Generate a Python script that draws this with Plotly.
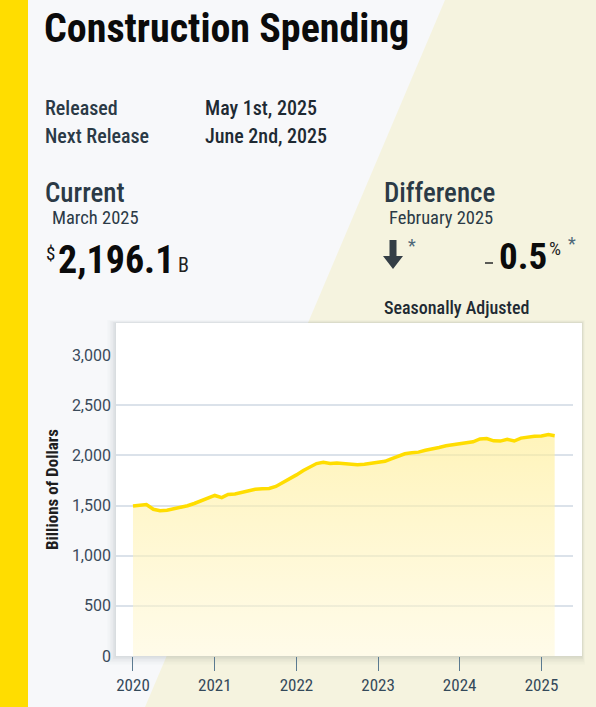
import plotly.graph_objects as go
import pandas as pd

# ---- data ----
spending_values = [
    1494, 1502, 1510, 1462, 1448, 1452, 1465, 1480, 1498, 1520, 1545, 1568,
    1600, 1578, 1610, 1615, 1630, 1643, 1662, 1667, 1670, 1690, 1728, 1760,
    1805, 1848, 1878, 1918, 1930, 1918, 1924, 1915, 1912, 1906, 1912, 1922,
    1930, 1940, 1965, 1992, 2015, 2025, 2032, 2050, 2060, 2078, 2095, 2105,
    2122, 2132, 2135, 2163, 2168, 2145, 2142, 2160, 2143, 2172, 2185, 2190,
    2193, 2207, 2196.1,
]
months = pd.date_range(start="2020-01-01", periods=len(spending_values), freq="MS")
year_ticks = ["2020-01-01", "2021-01-01", "2022-01-01", "2023-01-01", "2024-01-01", "2025-01-01"]
year_labels = ["2020", "2021", "2022", "2023", "2024", "2025"]
y_ticks = [0, 500, 1000, 1500, 2000, 2500, 3000]
y_labels = ["0", "500", "1,000", "1,500", "2,000", "2,500", "3,000"]

W, H = 596, 707
L, R, T, B = 116, 573, 355, 656


def px(x):
    return (x - L) / (R - L)


def py(y):
    return (B - y) / (B - T)


COND = "Roboto Condensed, Liberation Sans Narrow, DejaVu Sans Condensed, Roboto, sans-serif"
DARK = "#2b3a46"

fig = go.Figure()
fig.add_trace(go.Scatter(
    x=months, y=spending_values, mode="lines",
    line=dict(color="#FFDD00", width=3.5),
    fill="tozeroy",
    fillgradient=dict(type="vertical", start=0, stop=2200,
                      colorscale=[[0, "rgba(255,248,215,0.55)"], [1, "rgba(255,238,150,0.65)"]]),
    hoverinfo="x+y", showlegend=False,
))

shapes = []
# cream diagonal region
shapes.append(dict(type="path", xref="paper", yref="paper", layer="below",
                   path=f"M {px(445)} {py(0)} L {px(W)} {py(0)} L {px(W)} {py(H)} L {px(145)} {py(H)} Z",
                   fillcolor="#f5f3df", line=dict(width=0)))
# yellow stripe
shapes.append(dict(type="rect", xref="paper", yref="paper", layer="below",
                   x0=px(0), x1=px(28), y0=py(0), y1=py(H),
                   fillcolor="#FFDD00", line=dict(width=0)))
# card shadow
for i, op in enumerate([0.035, 0.03, 0.025, 0.02, 0.015, 0.01]):
    d = i + 1
    shapes.append(dict(type="rect", xref="paper", yref="paper", layer="below",
                       x0=px(116 - d * 1.5), x1=px(582 + d * 0.5), y0=py(323 - d * 0.5), y1=py(656 + d * 1.5),
                       fillcolor=f"rgba(40,50,70,{op})", line=dict(width=0)))
# card
shapes.append(dict(type="rect", xref="paper", yref="paper", layer="below",
                   x0=px(116), x1=px(582), y0=py(323), y1=py(656),
                   fillcolor="white", line=dict(width=0)))
# down arrow
ax0, ax1 = 383, 403
shapes.append(dict(type="path", xref="paper", yref="paper", layer="above",
                   path=(f"M {px(389.5)} {py(240)} L {px(396.5)} {py(240)} L {px(396.5)} {py(256)} "
                         f"L {px(ax1)} {py(256)} L {px(393)} {py(269)} L {px(ax0)} {py(256)} "
                         f"L {px(389.5)} {py(256)} Z"),
                   fillcolor="#343e46", line=dict(width=0)))
# minus dash before 0.5
shapes.append(dict(type="line", xref="paper", yref="paper", layer="above",
                   x0=px(485), x1=px(493), y0=py(263), y1=py(263),
                   line=dict(color="#333", width=1.6)))

ann = []


def text(x, y, s, size, color=DARK, weight="normal", xanchor="left", yanchor="middle", family=COND, **kw):
    ann.append(dict(x=px(x), y=py(y), xref="paper", yref="paper", text=s, showarrow=False,
                    xanchor=xanchor, yanchor=yanchor,
                    font=dict(size=size, color=color, family=family, weight=weight), **kw))


text(42, 28, "Construction Spending", 40, color="#0b0b0b", weight="bold")
text(43, 108, "Released", 20, weight=500)
text(203, 108, "May 1st, 2025", 20, color="#1e2a33", weight=500)
text(43, 136, "Next Release", 20, weight=500)
text(203, 136, "June 2nd, 2025", 20, color="#1e2a33", weight=500)

text(43, 193, "Current", 27, weight=500)
text(50, 218, "March 2025", 18.5)
text(44, 253, "$", 19, color="#111")
text(56, 260, "2,196.1", 38, color="#0b0b0b", weight="bold")
text(176, 265, "B", 20, color="#222")

text(382, 193, "Difference", 27, weight=500)
text(387, 218, "February 2025", 18.5)
text(406, 245, "*", 18, color="#4f6878")
text(497, 256, "0.5", 37, color="#0b0b0b", weight="bold")
text(547, 249, "%", 19, color="#222")
text(566, 244, "*", 18, color="#4f6878")
text(382, 307, "Seasonally Adjusted", 18, color="#1e2a33", weight=500)

text(52, 490, "Billions of Dollars", 17, color="#1e1e1e", weight="bold", xanchor="center", textangle=-90)

fig.update_layout(
    width=W, height=H,
    margin=dict(l=L, r=W - R, t=T, b=H - B),
    paper_bgcolor="#f7f8fa",
    plot_bgcolor="rgba(0,0,0,0)",
    shapes=shapes,
    annotations=ann,
    xaxis=dict(
        range=["2019-10-17", "2025-05-22"],
        tickvals=year_ticks, ticktext=year_labels,
        ticks="outside", ticklen=14, tickcolor="#5b7a90", tickwidth=1,
        showgrid=False, showline=False, zeroline=False,
        tickfont=dict(size=17, color="#34495a", family=COND),
    ),
    yaxis=dict(
        range=[0, 3000], tickvals=y_ticks, ticktext=y_labels,
        showgrid=True, gridcolor="#dbe2ea", gridwidth=1.5,
        zeroline=False, showline=False, ticks="",
        ticklabelstandoff=4,
        tickfont=dict(size=16, color="#3a4a5a", family="Roboto, Arial, sans-serif"),
    ),
)

fig.write_html("out.html", config={"displayModeBar": False},
               post_script="document.body.style.margin='0';document.body.style.padding='0';")
